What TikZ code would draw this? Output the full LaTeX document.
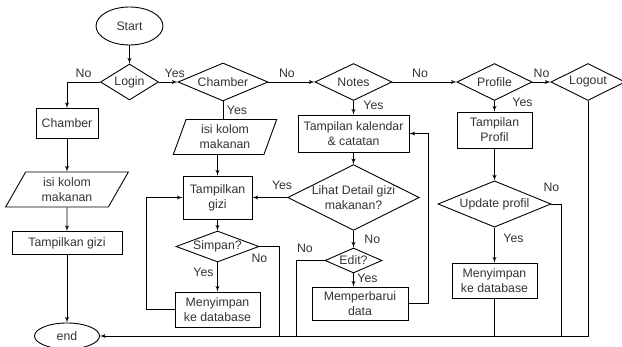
\documentclass[tikz,border=0pt]{standalone}
\usepackage{fontspec}
\setmainfont{Liberation Sans}
\usetikzlibrary{shapes, positioning, arrows}
\definecolor{txtgrey}{HTML}{333333}

\tikzstyle{decision} = [diamond, draw, aspect=2, align=center, inner sep=0pt]
\tikzstyle{block} = [rectangle, draw, align=center, inner sep=0pt]
\tikzstyle{io} = [trapezium, trapezium left angle=63, trapezium right angle=117,
    trapezium stretches=true, draw, align=center, inner sep=0pt]
\tikzstyle{terminal} = [draw, ellipse, inner sep=0pt]
\tikzstyle{line} = [draw, -latex']
\tikzstyle{lbl} = [inner sep=3.5pt, text=txtgrey]

\begin{document}
\begin{tikzpicture}[font=\fontsize{12.3}{15}\selectfont, line width=0.9pt,
    every node/.append style={text=txtgrey}]
\useasboundingbox (0,0) rectangle (622pt,-347pt);

\node [terminal, minimum width=67pt, minimum height=38pt] (start) at (129.5pt,-26pt) {Start};
\node [decision, below of=start, node distance=56pt, minimum width=58pt, minimum height=36pt] (login) {Login};
\node [decision, right of=login, node distance=93.5pt, minimum width=90pt, minimum height=38pt] (chamber) {Chamber};
\node [decision, right of=chamber, node distance=130.5pt, minimum width=77pt, minimum height=37pt] (notes) {Notes};
\node [decision, right of=notes, node distance=141pt, minimum width=75pt, minimum height=37pt] (profile) {Profile};
\node [decision, right of=profile, node distance=93.5pt, minimum width=74pt, minimum height=37pt] (logout) {Logout};

% kolom kiri
\node [block, below of=login, node distance=41.5pt, xshift=-62.5pt, minimum width=62pt, minimum height=30pt] (chamb) {Chamber};
\node [io, below of=chamb, node distance=66pt, minimum width=123pt, minimum height=35pt] (isi1) {isi kolom\\makanan};
\node [block, below of=isi1, node distance=53.5pt, minimum width=110pt, minimum height=23pt] (gizi1) {Tampilkan gizi};
\node [terminal, below of=gizi1, node distance=93pt, minimum width=65pt, minimum height=26pt] (end) {end};

% kolom chamber
\node [io, trapezium left angle=71, trapezium right angle=109, below of=chamber, node distance=55pt, xshift=2pt, minimum width=104pt, minimum height=35pt] (isi2) {isi kolom\\makanan};
\node [block, below of=isi2, node distance=60.5pt, xshift=-7.5pt, minimum width=69pt, minimum height=43pt] (gizi2) {Tampilkan\\gizi};
\node [decision, aspect=3, below of=gizi2, node distance=49pt, minimum width=83pt, minimum height=31pt] (simpan) {Simpan?};
\node [block, below of=simpan, node distance=63pt, minimum width=85pt, minimum height=35pt] (db2) {Menyimpan\\ke database};

% kolom notes
\node [block, below of=notes, node distance=51.5pt, minimum width=111pt, minimum height=37pt] (kalendar) {Tampilan kalendar\\\& catatan};
\node [decision, below of=kalendar, node distance=64pt, minimum width=131pt, minimum height=65pt] (detail) {Lihat Detail gizi\\makanan?};
\node [decision, below of=detail, node distance=63pt, minimum width=57pt, minimum height=25pt] (edit) {Edit?};
\node [block, below of=edit, node distance=43pt, xshift=6.5pt, minimum width=96pt, minimum height=33pt] (perbarui) {Memperbarui\\data};

% kolom profile
\node [block, below of=profile, node distance=48pt, minimum width=75pt, minimum height=36pt] (profil) {Tampilan\\Profil};
\node [decision, below of=profil, node distance=74pt, minimum width=113pt, minimum height=42pt] (update) {Update profil};
\node [block, below of=update, node distance=76.5pt, minimum width=85pt, minimum height=35pt] (db3) {Menyimpan\\ke database};

  \path [line] (start) -- (login);
  \path [line] (login) -| node[lbl, above, pos=0.25] {No} (chamb);
  \path [line] (login) -- node[lbl, above, pos=0.85] {Yes} (chamber);
  \path [line] (chamber) -- node[lbl, above, pos=0.4] {No} (notes);
  \path [line] (notes) -- node[lbl, above, pos=0.43] {No} (profile);
  \path [line] (profile) -- node[lbl, above] {No} (logout);

  \path [line] (chamb) -- (isi1);
  \path [line] (isi1) -- (gizi1);
  \path [line] (gizi1) -- (end);

  \draw (chamber.south) -- node[lbl, right] {Yes} (chamber.south |- isi2.north);
  \path [line] (isi2.south -| gizi2.north) -- (gizi2.north);
  \path [line] (gizi2) -- (simpan);
  \path [line] (simpan) -- node[lbl, left, pos=0.35] {Yes} (db2);
  \path [line] (db2.west) -- ++(-28pt,0) |- (gizi2.west);
  \draw (simpan.east) -- node[lbl, below, pos=0, yshift=-4pt] {No} ++(19.5pt,0) coordinate (s1) -- (s1 |- end.east);

  \path [line] (notes) -- node[lbl, right, pos=0.3, xshift=6pt] {Yes} (kalendar);
  \path [line] (kalendar) -- (detail);
  \path [line] (detail) -- node[lbl, above, pos=0.15, yshift=4pt] {Yes} (gizi2);
  \path [line] (detail) -- node[lbl, right, xshift=7pt] {No} (edit);
  \path [line] (edit) -- node[lbl, right, pos=0.35] {Yes} (edit |- perbarui.north);
  \path [line] (perbarui.east) -- ++(20pt,0) |- (kalendar.east);
  \draw (edit.west) -- node[lbl, above, pos=0.7, yshift=4pt] {No} ++(-28pt,0) coordinate (e1) -- (e1 |- end.east);

  \path [line] (profile) -- node[lbl, right, pos=0.1, xshift=14pt] {Yes} (profil);
  \path [line] (profil) -- (update);
  \path [line] (update) -- node[lbl, right, pos=0.3, xshift=5pt] {Yes} (db3);
  \draw (update.east) -- node[lbl, above, pos=0, yshift=8pt] {No} ++(10pt,0) coordinate (u1) -- (u1 |- end.east);
  \draw (db3) -- (db3 |- end.east);
  \path [line] (logout) |- (end);

\end{tikzpicture}
\end{document}
